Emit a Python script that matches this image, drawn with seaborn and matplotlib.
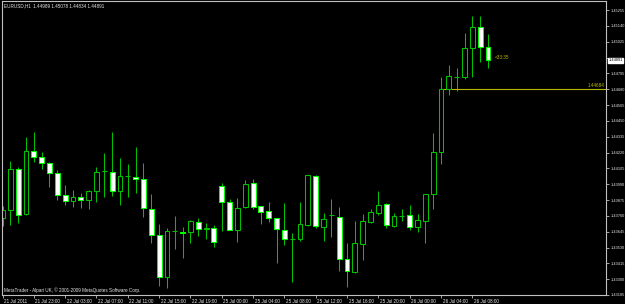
import numpy as np
import pandas as pd
import matplotlib
matplotlib.use("Agg")
import matplotlib.pyplot as plt
import matplotlib.transforms as mtransforms
from matplotlib import font_manager
import seaborn as sns

# ---------------- data (EURUSD H1) ----------------
opens = [1.43742, 1.43803, 1.44098, 1.43771, 1.44233, 1.44185, 1.44142, 1.44074, 1.43909, 1.43866,
         1.43895, 1.43873, 1.43938, 1.44083, 1.44081, 1.43938, 1.44046, 1.44042, 1.44026, 1.43812,
         1.43619, 1.43314, 1.43647, 1.43643, 1.43641, 1.43718, 1.43662, 1.43674, 1.43979, 1.43863,
         1.43659, 1.43822, 1.43996, 1.43829, 1.43793, 1.43742, 1.43659, 1.43589, 1.43590, 1.43691,
         1.44052, 1.43677, 1.43763, 1.43754, 1.43444, 1.43354, 1.43558, 1.43718, 1.43783, 1.43844,
         1.43689, 1.43760, 1.43764, 1.43677, 1.43725, 1.43917, 1.44224, 1.44684, 1.44770, 1.44767,
         1.44977, 1.45130, 1.44989]
highs = [1.43832, 1.44161, 1.44117, 1.44331, 1.44371, 1.44222, 1.44151, 1.44093, 1.43984, 1.43948,
         1.43924, 1.43948, 1.44117, 1.44219, 1.44369, 1.44180, 1.44135, 1.44260, 1.44142, 1.43919,
         1.43701, 1.43674, 1.43759, 1.43677, 1.43730, 1.43742, 1.43706, 1.43694, 1.43996, 1.43882,
         1.43892, 1.44021, 1.44028, 1.43834, 1.43861, 1.43747, 1.43851, 1.43633, 1.43863, 1.44057,
         1.44057, 1.43779, 1.43882, 1.43827, 1.43563, 1.43725, 1.43774, 1.43808, 1.43938, 1.43851,
         1.43779, 1.43808, 1.43839, 1.43776, 1.43922, 1.44360, 1.44767, 1.44856, 1.44832, 1.45091,
         1.45212, 1.45212, 1.45078]
lows = [1.43686, 1.43694, 1.43710, 1.43765, 1.44153, 1.44103, 1.43972, 1.43875, 1.43839, 1.43827,
        1.43815, 1.43810, 1.43861, 1.43899, 1.43904, 1.43837, 1.43899, 1.43928, 1.43754, 1.43561,
        1.43253, 1.43238, 1.43521, 1.43454, 1.43561, 1.43614, 1.43594, 1.43536, 1.43650, 1.43657,
        1.43570, 1.43817, 1.43808, 1.43701, 1.43718, 1.43420, 1.43550, 1.43282, 1.43577, 1.43686,
        1.43670, 1.43580, 1.43604, 1.43362, 1.43245, 1.43343, 1.43439, 1.43706, 1.43766, 1.43670,
        1.43681, 1.43725, 1.43659, 1.43645, 1.43565, 1.43812, 1.44135, 1.44638, 1.44669, 1.44752,
        1.44771, 1.44880, 1.44834]
closes = [1.43803, 1.44098, 1.43766, 1.44233, 1.44185, 1.44146, 1.44074, 1.43912, 1.43866, 1.43895,
          1.43873, 1.43938, 1.44076, 1.44085, 1.43938, 1.44050, 1.44048, 1.44026, 1.43815, 1.43619,
          1.43314, 1.43650, 1.43649, 1.43635, 1.43720, 1.43662, 1.43672, 1.43568, 1.43858, 1.43659,
          1.43819, 1.43989, 1.43827, 1.43790, 1.43744, 1.43662, 1.43594, 1.43591, 1.43699, 1.44055,
          1.43684, 1.43735, 1.43765, 1.43444, 1.43357, 1.43561, 1.43720, 1.43786, 1.43839, 1.43691,
          1.43761, 1.43762, 1.43677, 1.43728, 1.43919, 1.44226, 1.44679, 1.44774, 1.44772, 1.44977,
          1.45130, 1.44985, 1.44891]

time_tick_bars = [0, 4, 8, 12, 16, 20, 24, 28, 32, 36, 40, 44, 48, 52, 56, 60]
time_tick_labels = ["21 Jul 2011", "21 Jul 23:00", "22 Jul 03:00", "22 Jul 07:00", "22 Jul 11:00",
                    "22 Jul 15:00", "22 Jul 19:00", "25 Jul 00:00", "25 Jul 04:00", "25 Jul 08:00",
                    "25 Jul 12:00", "25 Jul 16:00", "25 Jul 20:00", "26 Jul 00:00", "26 Jul 04:00",
                    "26 Jul 08:00"]
price_ticks = [1.43185, 1.43300, 1.43415, 1.43530, 1.43645, 1.43760, 1.43875, 1.43990, 1.44105,
               1.44220, 1.44335, 1.44450, 1.44565, 1.44680, 1.44795, 1.44910, 1.45025, 1.45140,
               1.45255]
level_price = 1.44684
level_start_bar = 56
current_price = 1.44891
title_text = "EURUSD,H1  1.44989 1.45078 1.44834 1.44891"
timer_text = "<33:35"
credit_text = "MetaTrader - Alpari UK, \u00a9 2001-2009 MetaQuotes Software Corp."

# ---------------- style ----------------
sns.set_theme(style="dark")
names = {f.name for f in font_manager.fontManager.ttflist}
if "Liberation Sans Narrow" in names:
    fam, fs = "Liberation Sans Narrow", 3.9
else:
    fam, fs = "Liberation Sans", 3.3
plt.rcParams["font.family"] = [fam, "DejaVu Sans"]
yfs = fs * 0.85

GREEN = "#00c000"
GREEN_BRIGHT = "#00ff00"
FRAME = "#c0c0c0"
TEXT = "#e8e8e8"
YELLOW = "#b8b800"

df = pd.DataFrame({"open": opens, "high": highs, "low": lows, "close": closes})
df["bar"] = np.arange(len(df))
df["bottom"] = df[["open", "close"]].min(axis=1)
df["height"] = (df["close"] - df["open"]).abs().clip(lower=0.000012)
bull = df["close"] > df["open"]

fig = plt.figure(figsize=(6.25, 3.04), dpi=100, facecolor="black")
ax = fig.add_axes([2 / 625, 9 / 304, 604 / 625, 294 / 304])
ax.set_facecolor("black")

# wicks
ax.vlines(df["bar"], df["low"], df["high"], color=GREEN, lw=0.75, zorder=1)
# bodies
ax.bar(df.loc[bull, "bar"], df.loc[bull, "height"], bottom=df.loc[bull, "bottom"], width=0.62,
       color="black", edgecolor=GREEN, lw=0.75, zorder=2)
ax.bar(df.loc[~bull, "bar"], df.loc[~bull, "height"], bottom=df.loc[~bull, "bottom"], width=0.62,
       color="white", edgecolor=GREEN_BRIGHT, lw=0.75, zorder=2)

xmin, xmax = -0.064, 77.07
ax.set_xlim(xmin, xmax)
ax.set_ylim(1.43185, 1.453209)

# horizontal level line
lvl = pd.DataFrame({"bar": [level_start_bar, xmax], "price": [level_price, level_price]})
sns.lineplot(data=lvl, x="bar", y="price", ax=ax, color=YELLOW, lw=0.8, zorder=1.5)
ax.text(xmax - 0.2, level_price + 0.00003, f"{level_price:.5f}", color=YELLOW, fontsize=fs,
        ha="right", va="bottom")

# timer text
ax.text(62.8, 1.44908, timer_text, color=YELLOW, fontsize=fs, ha="left", va="center")

# title and credit
ax.text(0.003, 0.993, title_text, transform=ax.transAxes, color=TEXT, fontsize=fs, ha="left", va="top")
ax.text(0.003, 0.008, credit_text, transform=ax.transAxes, color=TEXT, fontsize=fs, ha="left", va="bottom")

# axes
for s in ax.spines.values():
    s.set_color(FRAME)
    s.set_linewidth(0.8)
    s.set_visible(True)
ax.grid(False)
ax.yaxis.tick_right()
ax.set_yticks(price_ticks)
# the 1.44910 label is hidden under the current-price box in the reference
ax.set_yticklabels(["" if abs(p - 1.44910) < 1e-6 else f"{p:.5f}" for p in price_ticks])
ax.tick_params(axis="y", right=True, left=False, direction="out", length=2.5, width=0.6,
               color=FRAME, labelsize=yfs, labelcolor=TEXT, pad=0.8)
ax.set_xticks(time_tick_bars)
ax.set_xticklabels(time_tick_labels)
ax.tick_params(axis="x", bottom=True, direction="out", length=2.5, width=0.6, color=FRAME,
               labelsize=fs, labelcolor=TEXT, pad=0.5)
offset = mtransforms.ScaledTranslation(1.5 / 100, 0, fig.dpi_scale_trans)
for lab in ax.get_xticklabels():
    lab.set_horizontalalignment("left")
    lab.set_transform(lab.get_transform() + offset)
ax.set_xlabel("")
ax.set_ylabel("")

# current price box
trans = mtransforms.blended_transform_factory(ax.transAxes, ax.transData)
ax.text(1.004, current_price, f"{current_price:.5f}", transform=trans, color="black", fontsize=yfs,
        ha="left", va="center", zorder=5, clip_on=False,
        bbox=dict(boxstyle="square,pad=0.15", facecolor="white", edgecolor="white"))

fig.savefig("out.png", dpi=100, facecolor="black")
